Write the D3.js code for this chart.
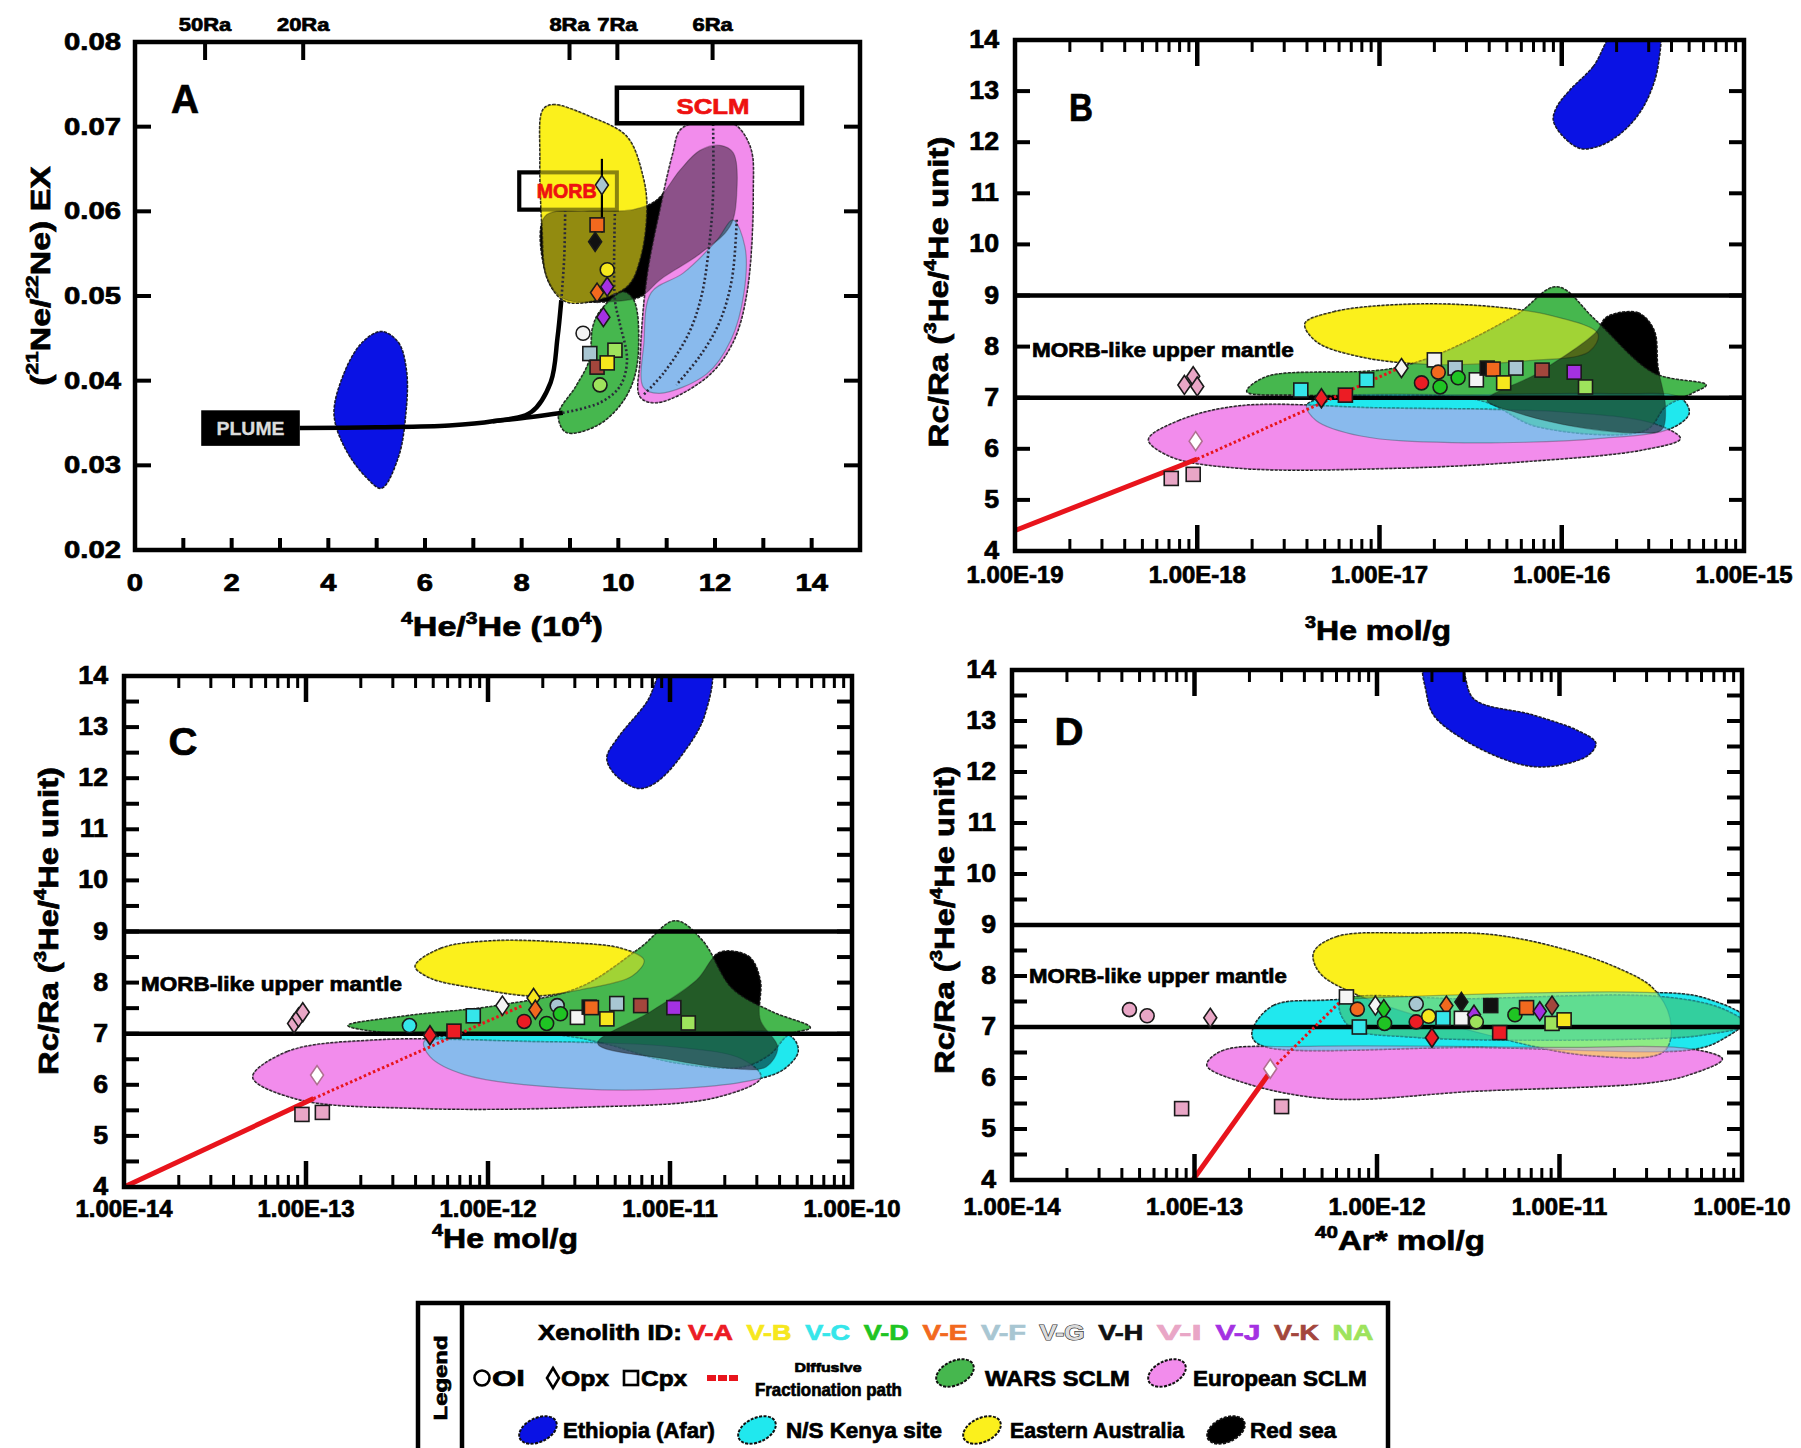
<!DOCTYPE html>
<html>
<head>
<meta charset="utf-8">
<title>He-Ne-Ar systematics of mantle xenoliths</title>
<script src="https://cdn.jsdelivr.net/npm/d3@7"></script>
<style>
  html, body { margin: 0; padding: 0; background: #fff; }
  svg text { font-family: "Liberation Sans", Arial, Helvetica, sans-serif; font-weight: bold; }
</style>
</head>
<body>
<svg id="fig" width="1801" height="1448" xmlns="http://www.w3.org/2000/svg"></svg>
<script>
// ---------------- Xenolith samples ----------------
const xenolithIds    = ["V-A","V-B","V-C","V-D","V-E","V-F","V-G","V-H","V-I","V-J","V-K","NA"];
const xenolithColors = ["#ec1c24","#f6e71d","#35e6ea","#1fc423","#f2691e","#a8c6d2","#f4f4f4","#111111","#e9a6c6","#a431e2","#a3463c","#9ee35c"];

// ---------------- Panel A: (21Ne/22Ne)EX vs 4He/3He (x10^4) ----------------
const xTicksA = [0, 2, 4, 6, 8, 10, 12, 14];
const yTicksA = [0.02, 0.03, 0.04, 0.05, 0.06, 0.07, 0.08];
const raLabelsA = ["50Ra", "20Ra", "8Ra", "7Ra", "6Ra"];
const raPositionsA = [1.45, 3.48, 8.99, 9.98, 11.95];

const afarA = [[5.10,0.0458],[5.45,0.0445],[5.62,0.0410],[5.60,0.0360],[5.45,0.0310],[5.10,0.0273],[4.80,0.0285],[4.35,0.0320],[4.12,0.0360],[4.30,0.0405],[4.70,0.0445]];
const redSeaA = [[8.48,0.0594],[9.35,0.0600],[10.31,0.0602],[10.79,0.0613],[11.28,0.0649],[11.69,0.0672],[12.10,0.0678],[12.38,0.0669],[12.45,0.0621],[12.31,0.0582],[11.69,0.0550],[10.86,0.0519],[10.45,0.0499],[9.62,0.0493],[8.86,0.0497],[8.52,0.0523]];
const kenyaA = [[12.37,0.0590],[12.62,0.0558],[12.60,0.0504],[12.33,0.0448],[11.83,0.0408],[10.85,0.0385],[10.52,0.0392],[10.53,0.0445],[10.68,0.0504],[11.34,0.0527],[12.04,0.0566]];
const europeA = [[11.28,0.0696],[11.69,0.0706],[12.37,0.0704],[12.73,0.0676],[12.79,0.0622],[12.66,0.0504],[12.37,0.0445],[11.83,0.0404],[10.80,0.0374],[10.45,0.0381],[10.45,0.0424],[10.59,0.0522],[10.86,0.0602],[11.13,0.0669]];
const australiaA = [[8.44,0.0720],[8.65,0.0726],[9.41,0.0712],[10.18,0.0688],[10.51,0.0641],[10.59,0.0602],[10.45,0.0543],[10.18,0.0511],[9.27,0.0492],[8.86,0.0495],[8.52,0.0522],[8.42,0.0582],[8.38,0.0661]];
const warsA = [[9.62,0.0482],[10.10,0.0505],[10.32,0.0495],[10.42,0.0444],[10.32,0.0402],[10.05,0.0372],[9.56,0.0347],[8.92,0.0339],[8.76,0.0360],[9.12,0.0393],[9.40,0.0424],[9.47,0.0463]];

// binary mixing curves from the plume end-member
const mixPlumeMorbA = [[3.41,0.0344],[5.0,0.0345],[6.5,0.0347],[7.4,0.0352],[8.2,0.0363],[8.6,0.0398],[8.74,0.0450],[8.82,0.0495]];
const mixPlumeWarsA = [[7.4,0.0352],[8.2,0.0357],[8.85,0.0362]];
const mixDottedA = [
  [[8.82,0.0495],[8.88,0.0545],[8.90,0.0600]],
  [[8.85,0.0362],[9.62,0.0374],[10.03,0.0393],[10.18,0.0424],[10.02,0.0470],[9.93,0.0495],[9.93,0.0600]],
  [[11.96,0.0703],[11.96,0.0620],[11.88,0.0560],[11.72,0.0500],[11.45,0.0455],[10.95,0.0410],[10.50,0.0382]],
  [[12.45,0.0590],[12.35,0.0520],[12.10,0.0470],[11.70,0.0430],[11.20,0.0395]]
];
const plumeBoxA = [1.37, 3.41, 0.0323, 0.0365];
const morbBoxA  = [7.95, 9.97, 0.0602, 0.0646];
const sclmBoxA  = [9.97, 13.80, 0.0704, 0.0746];

// [x, y, xenolith, mineral]
const pointsA = [
  [9.66,0.0631,"V-F","opx"],[9.56,0.0584,"V-E","cpx"],[9.52,0.0564,"V-H","opx"],[9.77,0.0531,"V-B","ol"],
  [9.77,0.0511,"V-J","opx"],[9.56,0.0504,"V-E","opx"],[9.69,0.0475,"V-J","opx"],[9.27,0.0456,"V-G","ol"],
  [9.93,0.0436,"NA","cpx"],[9.41,0.0432,"V-F","cpx"],[9.56,0.0416,"V-K","cpx"],[9.77,0.0421,"V-B","cpx"],
  [9.62,0.0395,"NA","ol"]
];
const errorBarA = [9.66, 0.0575, 0.0662];

// ---------------- Panel B: Rc/Ra vs 3He (mol/g) ----------------
const xTicksB = [1e-19, 1e-18, 1e-17, 1e-16, 1e-15];
const afarB = [[2.0e-16,14.2],[1.49e-16,13.48],[1.11e-16,13.02],[9.4e-17,12.69],[9.0e-17,12.43],[1.02e-16,12.11],[1.26e-16,11.88],[1.56e-16,11.91],[2.0e-16,12.11],[2.58e-16,12.5],[3.05e-16,12.96],[3.39e-16,13.54],[3.35e-16,14.2]];
const redSeaB = [[1.77e-16,8.58],[2.62e-16,8.66],[3.21e-16,8.32],[3.37e-16,7.60],[3.71e-16,6.82],[3.53e-16,6.37],[2.62e-16,6.31],[1.20e-16,6.43],[5.75e-17,6.70],[3.89e-17,6.95],[7.36e-17,7.48],[1.53e-16,8.27]];
const kenyaB = [[3.98e-18,6.85],[5.6e-18,7.02],[3.16e-17,7.06],[2.0e-16,7.08],[4.47e-16,7.0],[5.0e-16,6.7],[3.98e-16,6.4],[1.58e-16,6.2],[2.5e-17,6.12],[7.9e-18,6.25],[4.5e-18,6.55]];
const europeB = [[5.4e-19,6.18],[7.9e-19,6.55],[1.7e-18,6.84],[1.0e-17,6.8],[1.0e-16,6.72],[3.16e-16,6.5],[4.47e-16,6.2],[2.8e-16,5.98],[6.3e-17,5.75],[1.23e-17,5.62],[1.7e-18,5.62],[7.1e-19,5.85]];
const australiaB = [[3.9e-18,8.45],[5.6e-18,8.68],[1.26e-17,8.82],[3.55e-17,8.8],[8.9e-17,8.6],[1.58e-16,8.25],[1.41e-16,7.9],[6.3e-17,7.72],[2.0e-17,7.65],[7.9e-18,7.8],[4.5e-18,8.1]];
const warsB = [[1.87e-18,7.12],[2.39e-18,7.41],[1.33e-17,7.61],[5.47e-17,8.59],[9.4e-17,9.17],[1.53e-16,8.52],[3.21e-16,7.48],[6.2e-16,7.25],[5.2e-16,7.09],[3.7e-16,6.82],[2.9e-16,6.37],[7.4e-17,6.43],[3.54e-17,6.95],[3.9e-18,7.05]];
const diffusionB = [[1e-19,4.4],[1.0e-18,5.8],[1.32e-17,7.6]];
const pointsB = [
  [3.7e-18,7.15,"V-C","cpx"],[4.8e-18,6.99,"V-A","opx"],[6.5e-18,7.05,"V-A","cpx"],[8.5e-18,7.35,"V-C","cpx"],
  [1.32e-17,7.58,"V-G","opx"],[1.7e-17,7.29,"V-A","ol"],[2.0e-17,7.74,"V-G","cpx"],[2.1e-17,7.50,"V-E","ol"],
  [2.15e-17,7.21,"V-D","ol"],[2.6e-17,7.58,"V-F","cpx"],[2.7e-17,7.39,"V-D","ol"],[3.4e-17,7.35,"V-G","cpx"],
  [3.9e-17,7.58,"V-H","cpx"],[4.2e-17,7.56,"V-E","cpx"],[4.8e-17,7.29,"V-B","cpx"],[5.6e-17,7.58,"V-F","cpx"],
  [7.8e-17,7.54,"V-K","cpx"],[1.17e-16,7.50,"V-J","cpx"],[1.35e-16,7.21,"NA","cpx"],
  [8.5e-19,7.25,"V-I","opx"],[9.5e-19,7.42,"V-I","opx"],[1.0e-18,7.22,"V-I","opx"],
  [9.8e-19,6.15,"V-I","opx",true],[7.2e-19,5.42,"V-I","cpx"],[9.5e-19,5.50,"V-I","cpx"]
];

// ---------------- Panel C: Rc/Ra vs 4He (mol/g) ----------------
const xTicksC = [1e-14, 1e-13, 1e-12, 1e-11, 1e-10];
const afarC = [[9.5e-12,14.2],[7.5e-12,13.5],[5.2e-12,12.8],[4.5e-12,12.4],[5.0e-12,12.07],[6.7e-12,11.8],[8.4e-12,11.92],[1.21e-11,12.54],[1.55e-11,13.23],[1.65e-11,14.2]];
const redSeaC = [[1.87e-11,8.59],[2.71e-11,8.51],[3.13e-11,8.05],[3.13e-11,7.28],[3.91e-11,6.73],[3.37e-11,6.35],[2.34e-11,6.31],[9.7e-12,6.50],[4.0e-12,6.81],[7.8e-12,7.43],[1.4e-11,8.05]];
const kenyaC = [[4.45e-13,6.85],[7.4e-13,6.97],[3.23e-12,7.01],[1.4e-11,7.01],[4.53e-11,6.97],[5.06e-11,6.66],[4.2e-11,6.3],[2.92e-11,6.1],[1.4e-11,5.95],[3.23e-12,5.92],[7.4e-13,6.2],[4.8e-13,6.55]];
const europeC = [[5.1e-14,6.15],[7.9e-14,6.65],[2.5e-13,6.88],[1.58e-12,6.85],[1.0e-11,6.75],[2.5e-11,6.5],[3.16e-11,6.15],[1.78e-11,5.75],[3.16e-12,5.56],[4.0e-13,5.54],[8.9e-14,5.72]];
const australiaC = [[3.98e-13,8.32],[5.5e-13,8.67],[1.07e-12,8.82],[2.79e-12,8.78],[5.4e-12,8.67],[7.2e-12,8.44],[6.2e-12,8.13],[3.23e-12,7.86],[1.79e-12,7.74],[8.6e-13,7.89],[4.8e-13,8.09]];
const warsC = [[1.7e-13,7.16],[3.55e-13,7.35],[1.12e-12,7.55],[3.16e-12,7.9],[6.8e-12,8.67],[1.07e-11,9.21],[1.51e-11,8.82],[2.19e-11,7.89],[3.63e-11,7.43],[5.9e-11,7.12],[4.47e-11,6.98],[3.55e-11,6.6],[2.5e-11,6.35],[1.0e-11,6.45],[4.47e-12,6.8],[2.5e-12,6.97],[3.16e-13,7.0]];
const diffusionC = [[1e-14,4.0],[1.1e-13,5.73],[1.55e-12,7.55]];
const pointsC = [
  [3.7e-13,7.16,"V-C","ol"],[4.8e-13,6.97,"V-A","opx"],[6.5e-13,7.05,"V-A","cpx"],[8.3e-13,7.35,"V-C","cpx"],
  [1.2e-12,7.55,"V-G","opx"],[1.78e-12,7.70,"V-B","opx"],[1.58e-12,7.24,"V-A","ol"],[1.82e-12,7.47,"V-E","opx"],
  [2.1e-12,7.20,"V-D","ol"],[2.4e-12,7.55,"V-F","ol"],[2.5e-12,7.39,"V-D","ol"],[3.1e-12,7.32,"V-G","cpx"],
  [3.6e-12,7.52,"V-H","cpx"],[3.7e-12,7.51,"V-E","cpx"],[4.5e-12,7.29,"V-B","cpx"],[5.1e-12,7.59,"V-F","cpx"],
  [6.9e-12,7.55,"V-K","cpx"],[1.05e-11,7.51,"V-J","cpx"],[1.26e-11,7.21,"NA","cpx"],
  [8.6e-14,7.20,"V-I","opx"],[9.1e-14,7.32,"V-I","opx"],[9.6e-14,7.42,"V-I","opx"],
  [1.15e-13,6.19,"V-I","opx",true],[9.5e-14,5.42,"V-I","cpx"],[1.23e-13,5.46,"V-I","cpx"]
];

// ---------------- Panel D: Rc/Ra vs 40Ar* (mol/g) ----------------
const xTicksD = [1e-14, 1e-13, 1e-12, 1e-11, 1e-10];
const afarD = [[1.82e-12,14.1],[2.82e-12,14.1],[3.39e-12,13.43],[7.1e-12,13.12],[1.26e-11,12.81],[1.58e-11,12.57],[1.45e-11,12.34],[1.02e-11,12.14],[7.1e-12,12.11],[4.9e-12,12.26],[2.95e-12,12.65],[2.04e-12,13.12],[1.86e-12,13.58]];
const kenyaD = [[2.1e-13,6.99],[2.71e-13,7.42],[5.6e-13,7.53],[3.02e-11,7.68],[6.2e-11,7.57],[1.05e-10,7.15],[7.8e-11,6.76],[5.4e-11,6.56],[3.43e-12,6.60],[2.52e-13,6.60],[2.1e-13,6.76]];
const europeD = [[1.17e-13,6.25],[1.41e-13,6.53],[3.98e-13,6.62],[1.0e-11,6.6],[5.0e-11,6.58],[7.8e-11,6.37],[5.0e-11,6.05],[3.02e-11,5.9],[3.39e-12,5.74],[5.6e-13,5.59],[1.9e-13,5.9]];
const australiaD = [[4.5e-13,8.46],[6.0e-13,8.77],[1.66e-12,8.84],[4.27e-12,8.81],[1.02e-11,8.54],[2.1e-11,8.15],[3.25e-11,7.76],[4.04e-11,7.15],[3.76e-11,6.53],[1.46e-11,6.44],[3.43e-12,6.91],[8.05e-13,7.61],[4.84e-13,8.07]];
const warsD = [[6.3e-13,7.49],[3.16e-12,7.55],[3.72e-11,7.59],[7.9e-11,7.35],[1.05e-10,7.05],[6.3e-11,6.85],[3.72e-11,6.78],[1.58e-12,6.8],[7.1e-13,7.0]];
const diffusionD = [[9.8e-14,4.0],[2.7e-13,6.2],[6.95e-13,7.65]];
const pointsD = [
  [6.8e-13,7.59,"V-G","cpx"],[7.8e-13,7.35,"V-E","ol"],[8.0e-13,7.00,"V-C","cpx"],[9.8e-13,7.42,"V-G","opx"],
  [1.09e-12,7.35,"V-D","opx"],[1.10e-12,7.07,"V-D","ol"],[1.64e-12,7.45,"V-F","ol"],[1.64e-12,7.10,"V-A","ol"],
  [1.92e-12,7.21,"V-B","ol"],[2.0e-12,6.79,"V-A","opx"],[2.4e-12,7.42,"V-E","opx"],[2.3e-12,7.17,"V-C","cpx"],
  [2.9e-12,7.49,"V-H","opx"],[2.9e-12,7.17,"V-G","cpx"],[3.4e-12,7.24,"V-J","opx"],[3.5e-12,7.10,"NA","ol"],
  [4.2e-12,7.42,"V-H","cpx"],[4.7e-12,6.89,"V-A","cpx"],[5.7e-12,7.24,"V-D","ol"],[6.6e-12,7.38,"V-E","cpx"],
  [7.8e-12,7.31,"V-J","opx"],[9.1e-12,7.42,"V-K","opx"],[9.1e-12,7.07,"NA","cpx"],[1.06e-11,7.14,"V-B","cpx"],
  [4.4e-14,7.34,"V-I","ol"],[5.5e-14,7.22,"V-I","ol"],[1.22e-13,7.18,"V-I","opx"],
  [2.6e-13,6.18,"V-I","opx",true],[8.5e-14,5.40,"V-I","cpx"],[3.0e-13,5.44,"V-I","cpx"]
];

// reference MORB band in Rc/Ra
const morbBand = [7, 9];
const ratioTicks = [4, 5, 6, 7, 8, 9, 10, 11, 12, 13, 14];

// ---------------- drawing ----------------
const COL = { afar:"#0a12e4", redSea:"#000000", kenya:"#20e8ee", europe:"#f28cec", australia:"#fbf01c", wars:"#46b74e", red:"#e8141c" };
const svg = d3.select("#fig");
const defs = svg.append("defs");

function label(parent, o) {
  const t = parent.append("text")
    .attr("text-anchor", o.anchor || "middle")
    .attr("font-size", o.size)
    .attr("fill", o.fill || "#000");
  const parts = typeof o.parts === "string" ? [[o.parts, false]] : o.parts;
  let raised = false;
  parts.forEach(([s, sup]) => {
    const ts = t.append("tspan").text(s);
    if (sup) { ts.attr("font-size", o.size * 0.62); if (!raised) ts.attr("dy", -o.size * 0.42); raised = true; }
    else if (raised) { ts.attr("dy", o.size * 0.42); raised = false; }
  });
  t.attr("stroke", o.stroke || o.fill || "#000").attr("stroke-width", o.sw == null ? 0.7 : o.sw).attr("paint-order", "stroke");
  let sx = o.sx || 1;
  if (o.width) { const w = t.node().getBBox().width; if (w > 0) sx = o.width / w; }
  t.attr("transform", `translate(${o.x},${o.y})` + (o.rotate ? ` rotate(${o.rotate})` : "") + ` scale(${sx},1)`);
  return t;
}

function marker(g, cx, cy, id, mineral, open) {
  const col = xenolithColors[xenolithIds.indexOf(id)];
  const fill = open ? "#ffffff" : col;
  const stroke = open ? "#b07090" : "#1a1a1a";
  let m;
  if (mineral === "ol") m = g.append("circle").attr("cx", cx).attr("cy", cy).attr("r", 7);
  else if (mineral === "opx") m = g.append("path").attr("d", `M${cx},${cy - 9.5}L${cx + 6.5},${cy}L${cx},${cy + 9.5}L${cx - 6.5},${cy}Z`);
  else m = g.append("rect").attr("x", cx - 7).attr("y", cy - 7).attr("width", 14).attr("height", 14);
  m.attr("fill", fill).attr("stroke", stroke).attr("stroke-width", 1.6);
}

// Fields are laid down opaque, then a translucent pass in reverse order
// lets the lower fields show through where they overlap.
function drawFields(g, fields, x, y) {
  const outline = d3.line().x(d => x(d[0])).y(d => y(d[1])).curve(d3.curveCatmullRomClosed.alpha(0.5));
  fields.forEach(f => g.append("path").attr("d", outline(f.pts)).attr("fill", f.color)
    .attr("stroke", "#1a1a1a").attr("stroke-width", 1.7).attr("stroke-dasharray", "3,1.4"));
  fields.slice().reverse().forEach(f => g.append("path").attr("d", outline(f.pts)).attr("fill", f.color)
    .attr("fill-opacity", f.mix == null ? 0.5 : f.mix)
    .attr("stroke", "#1a1a1a").attr("stroke-opacity", 0.3).attr("stroke-width", 1.2));
}

function clipFor(name, b) {
  defs.append("clipPath").attr("id", "clip-" + name).append("rect")
    .attr("x", b.x0).attr("y", b.y0).attr("width", b.x1 - b.x0).attr("height", b.y1 - b.y0);
  return `url(#clip-${name})`;
}

function tick(g, x1, y1, x2, y2, w) {
  g.append("line").attr("x1", x1).attr("y1", y1).attr("x2", x2).attr("y2", y2)
    .attr("stroke", "#000").attr("stroke-width", w);
}

function frame(g, b) {
  g.append("rect").attr("x", b.x0).attr("y", b.y0).attr("width", b.x1 - b.x0).attr("height", b.y1 - b.y0)
    .attr("fill", "none").attr("stroke", "#000").attr("stroke-width", 4.5);
}

const logLabel = v => d3.format(".2e")(v).toUpperCase();

// ---------- Panel A ----------
(function () {
  const b = { x0: 135, x1: 860, y0: 42, y1: 550 };
  const x = d3.scaleLinear().domain([0, 15]).range([b.x0, b.x1]);
  const y = d3.scaleLinear().domain([0.02, 0.08]).range([b.y1, b.y0]);
  const g = svg.append("g");
  const plot = g.append("g").attr("clip-path", clipFor("A", b));

  // MORB reference box sits beneath the fields
  const mb = morbBoxA;
  plot.append("rect").attr("x", x(mb[0])).attr("y", y(mb[3])).attr("width", x(mb[1]) - x(mb[0])).attr("height", y(mb[2]) - y(mb[3]))
    .attr("fill", "#fff").attr("stroke", "#000").attr("stroke-width", 4);

  drawFields(plot, [
    { pts: redSeaA, color: COL.redSea, mix: 0.42 }, { pts: kenyaA, color: COL.kenya }, { pts: europeA, color: COL.europe },
    { pts: australiaA, color: COL.australia }, { pts: warsA, color: COL.wars }, { pts: afarA, color: COL.afar }
  ], x, y);

  plot.append("rect").attr("x", x(mb[0])).attr("y", y(mb[3])).attr("width", x(mb[1]) - x(mb[0])).attr("height", y(mb[2]) - y(mb[3]))
    .attr("fill", "none").attr("stroke", "#000").attr("stroke-opacity", 0.45).attr("stroke-width", 4);

  const smooth = d3.line().x(d => x(d[0])).y(d => y(d[1])).curve(d3.curveCatmullRom.alpha(0.5));
  mixDottedA.forEach(c => plot.append("path").attr("d", smooth(c)).attr("fill", "none")
    .attr("stroke", "#2a2a3a").attr("stroke-width", 2.6).attr("stroke-dasharray", "2,2.4"));
  [mixPlumeMorbA, mixPlumeWarsA].forEach(c => plot.append("path").attr("d", smooth(c)).attr("fill", "none")
    .attr("stroke", "#000").attr("stroke-width", 4.5));

  // SCLM and PLUME end-member boxes
  const sb = sclmBoxA;
  plot.append("rect").attr("x", x(sb[0])).attr("y", y(sb[3])).attr("width", x(sb[1]) - x(sb[0])).attr("height", y(sb[2]) - y(sb[3]))
    .attr("fill", "#fff").attr("stroke", "#000").attr("stroke-width", 4.5);
  const pb = plumeBoxA;
  plot.append("rect").attr("x", x(pb[0])).attr("y", y(pb[3])).attr("width", x(pb[1]) - x(pb[0])).attr("height", y(pb[2]) - y(pb[3]))
    .attr("fill", "#000");
  label(g, { x: x((pb[0] + pb[1]) / 2), y: y((pb[2] + pb[3]) / 2) + 7, parts: "PLUME", size: 18, width: 68, fill: "#dcdcdc", sw: 0.3 });
  label(g, { x: x(8.93), y: y((mb[2] + mb[3]) / 2) + 7, parts: "MORB", size: 20, width: 60, fill: "#ee1111" });
  label(g, { x: x(11.96), y: y((sb[2] + sb[3]) / 2) + 8, parts: "SCLM", size: 22, width: 73, fill: "#ee1111" });

  // error bar and samples
  plot.append("line").attr("x1", x(errorBarA[0])).attr("x2", x(errorBarA[0]))
    .attr("y1", y(errorBarA[1])).attr("y2", y(errorBarA[2])).attr("stroke", "#000").attr("stroke-width", 2.2);
  pointsA.forEach(p => marker(plot, x(p[0]), y(p[1]), p[2], p[3], p[4]));

  // axes
  frame(g, b);
  d3.range(1, 15).forEach(v => tick(g, x(v), b.y1, x(v), b.y1 - 12, 4));
  [0.03, 0.04, 0.05, 0.06, 0.07].forEach(v => { tick(g, b.x0, y(v), b.x0 + 16, y(v), 4); tick(g, b.x1, y(v), b.x1 - 16, y(v), 4); });
  raPositionsA.forEach((v, i) => {
    tick(g, x(v), b.y0, x(v), b.y0 + 18, 4);
    label(g, { x: x(v), y: 31, parts: raLabelsA[i], size: 18, sx: 1.22 });
  });
  yTicksA.forEach(v => label(g, { x: b.x0 - 14, y: y(v) + 8, parts: d3.format(".2f")(v), size: 24, anchor: "end", sx: 1.22 }));
  xTicksA.forEach(v => label(g, { x: x(v), y: 591, parts: String(v), size: 24, sx: 1.22 }));
  label(g, { x: 502, y: 636, parts: [["4", true], ["He/", false], ["3", true], ["He (10", false], ["4", true], [")", false]], size: 28, width: 202 });
  label(g, { x: 50, y: 276, rotate: -90, parts: [["(", false], ["21", true], ["Ne/", false], ["22", true], ["Ne) EX", false]], size: 28, width: 220 });
  label(g, { x: 185, y: 113, parts: "A", size: 40, width: 28 });
})();

// ---------- Panels B, C, D (Rc/Ra vs concentration) ----------
function ratioPanel(cfg) {
  const b = cfg.b;
  const x = d3.scaleLog().domain(cfg.domain).range([b.x0, b.x1]);
  const y = d3.scaleLinear().domain([4, 14]).range([b.y1, b.y0]);
  const g = svg.append("g");
  const plot = g.append("g").attr("clip-path", clipFor(cfg.name, b));

  drawFields(plot, cfg.fields, x, y);

  morbBand.forEach(v => plot.append("line").attr("x1", b.x0).attr("x2", b.x1).attr("y1", y(v)).attr("y2", y(v))
    .attr("stroke", "#000").attr("stroke-width", 4.5));

  const ln = d3.line().x(d => x(d[0])).y(d => y(d[1]));
  plot.append("path").attr("d", ln(cfg.diffusion.slice(0, 2))).attr("fill", "none").attr("stroke", COL.red).attr("stroke-width", 5);
  plot.append("path").attr("d", ln(cfg.diffusion.slice(1))).attr("fill", "none").attr("stroke", COL.red)
    .attr("stroke-width", 3).attr("stroke-dasharray", "2.5,2.5");

  cfg.points.forEach(p => marker(plot, x(p[0]), y(p[1]), p[2], p[3], p[4]));

  label(g, { x: b.x0 + 17, y: y(cfg.morbTextY) + 7, parts: "MORB-like upper mantle", size: 20, anchor: "start", width: cfg.morbTextW });

  // axes
  frame(g, b);
  const lo = Math.round(Math.log10(cfg.domain[0])), hi = Math.round(Math.log10(cfg.domain[1]));
  for (let d = lo; d < hi; d++) {
    for (let k = 1; k < 10; k++) {
      if (k === 1 && d === lo) continue;
      const px = x(k * Math.pow(10, d));
      const len = k === 1 ? 26 : 12, w = k === 1 ? 4.5 : 3;
      tick(g, px, b.y0, px, b.y0 + len, w);
      tick(g, px, b.y1, px, b.y1 - len, w);
    }
  }
  cfg.yMinor.forEach(v => { tick(g, b.x0, y(v), b.x0 + 15, y(v), 4); tick(g, b.x1, y(v), b.x1 - 15, y(v), 4); });
  ratioTicks.forEach(v => label(g, { x: b.x0 - 16, y: y(v) + 8, parts: String(v), size: 25, anchor: "end", sx: 1.07 }));
  cfg.xTicks.forEach(v => label(g, { x: x(v), y: cfg.xLabelY, parts: logLabel(v), size: 23, sx: 1.04 }));
  label(g, { x: cfg.xTitle[0], y: cfg.xTitle[1], parts: cfg.xTitleParts, size: 28, width: cfg.xTitle[2] });
  label(g, { x: cfg.yTitle[0], y: cfg.yTitle[1], rotate: -90,
    parts: [["Rc/Ra (", false], ["3", true], ["He/", false], ["4", true], ["He unit)", false]], size: 28, width: cfg.yTitle[2] });
  label(g, { x: cfg.letter[0], y: cfg.letter[1], parts: cfg.name, size: 38, width: cfg.letter[2] });
}

const integerSteps = d3.range(5, 14);
const halfSteps = d3.range(4.5, 14, 0.5);

ratioPanel({
  name: "B", b: { x0: 1015, x1: 1744, y0: 40, y1: 551 }, domain: [1e-19, 1e-15], xTicks: xTicksB,
  fields: [
    { pts: redSeaB, color: COL.redSea }, { pts: kenyaB, color: COL.kenya }, { pts: europeB, color: COL.europe },
    { pts: australiaB, color: COL.australia }, { pts: warsB, color: COL.wars }, { pts: afarB, color: COL.afar }
  ],
  diffusion: diffusionB, points: pointsB, yMinor: integerSteps,
  morbTextY: 7.93, morbTextW: 262, xLabelY: 583,
  xTitle: [1378, 640, 146], xTitleParts: [["3", true], ["He mol/g", false]],
  yTitle: [948, 292, 311], letter: [1081, 121, 24]
});

ratioPanel({
  name: "C", b: { x0: 124, x1: 852, y0: 676, y1: 1187 }, domain: [1e-14, 1e-10], xTicks: xTicksC,
  fields: [
    { pts: redSeaC, color: COL.redSea }, { pts: kenyaC, color: COL.kenya }, { pts: europeC, color: COL.europe },
    { pts: australiaC, color: COL.australia }, { pts: warsC, color: COL.wars }, { pts: afarC, color: COL.afar }
  ],
  diffusion: diffusionC, points: pointsC, yMinor: halfSteps,
  morbTextY: 7.97, morbTextW: 261, xLabelY: 1217,
  xTitle: [505, 1248, 146], xTitleParts: [["4", true], ["He mol/g", false]],
  yTitle: [58, 921, 308], letter: [183, 755, 29]
});

ratioPanel({
  name: "D", b: { x0: 1012, x1: 1742, y0: 670, y1: 1180 }, domain: [1e-14, 1e-10], xTicks: xTicksD,
  fields: [
    { pts: europeD, color: COL.europe }, { pts: kenyaD, color: COL.kenya },
    { pts: australiaD, color: COL.australia }, { pts: warsD, color: COL.wars }, { pts: afarD, color: COL.afar }
  ],
  diffusion: diffusionD, points: pointsD, yMinor: halfSteps,
  morbTextY: 8.0, morbTextW: 258, xLabelY: 1215,
  xTitle: [1400, 1250, 170], xTitleParts: [["40", true], ["Ar* mol/g", false]],
  yTitle: [954, 920, 308], letter: [1069, 745, 29]
});

// ---------- Legend ----------
(function () {
  const g = svg.append("g");
  g.append("rect").attr("x", 418).attr("y", 1303).attr("width", 970).attr("height", 220)
    .attr("fill", "#fff").attr("stroke", "#000").attr("stroke-width", 4.5);
  g.append("line").attr("x1", 462).attr("x2", 462).attr("y1", 1303).attr("y2", 1460).attr("stroke", "#000").attr("stroke-width", 4.5);
  label(g, { x: 447, y: 1378, rotate: -90, parts: "Legend", size: 18, width: 85 });

  // row 1: sample colours
  label(g, { x: 538, y: 1340, parts: "Xenolith ID:", size: 22, anchor: "start", width: 144 });
  xenolithIds.forEach((id, i) => {
    const isG = id === "V-G";
    label(g, { x: 688 + i * 58.6, y: 1340, parts: id, size: 22, anchor: "start", width: id === "NA" ? 41 : 45,
      fill: isG ? "#dcdcdc" : xenolithColors[i], stroke: isG ? "#333" : null, sw: isG ? 1.2 : 0.7 });
  });

  // row 2: mineral symbols, diffusion path, fields
  const cy2 = 1378;
  g.append("circle").attr("cx", 482).attr("cy", cy2).attr("r", 7.5).attr("fill", "#fff").attr("stroke", "#000").attr("stroke-width", 2.6);
  label(g, { x: 492, y: 1386, parts: "Ol", size: 22, anchor: "start", width: 33 });
  g.append("path").attr("d", `M553,${cy2 - 10}L559,${cy2}L553,${cy2 + 10}L547,${cy2}Z`).attr("fill", "#fff").attr("stroke", "#000").attr("stroke-width", 2.6);
  label(g, { x: 561, y: 1386, parts: "Opx", size: 22, anchor: "start", width: 49 });
  g.append("rect").attr("x", 624).attr("y", cy2 - 7).attr("width", 14).attr("height", 14).attr("fill", "#fff").attr("stroke", "#000").attr("stroke-width", 2.6);
  label(g, { x: 641, y: 1386, parts: "Cpx", size: 22, anchor: "start", width: 47 });
  g.append("line").attr("x1", 707).attr("x2", 738).attr("y1", cy2).attr("y2", cy2)
    .attr("stroke", COL.red).attr("stroke-width", 6).attr("stroke-dasharray", "9,2");
  label(g, { x: 828, y: 1372, parts: "Diffusive", size: 13, width: 67 });
  label(g, { x: 755, y: 1396, parts: "Fractionation path", size: 18, anchor: "start", width: 147 });

  const swatch = (cx, cy, color) => g.append("ellipse").attr("cx", cx).attr("cy", cy).attr("rx", 20).attr("ry", 12)
    .attr("transform", `rotate(-25,${cx},${cy})`).attr("fill", color)
    .attr("stroke", "#111").attr("stroke-width", 2).attr("stroke-dasharray", "3,1.4");
  swatch(955, 1373, COL.wars);
  label(g, { x: 985, y: 1386, parts: "WARS SCLM", size: 22, anchor: "start", width: 145 });
  swatch(1167, 1373, COL.europe);
  label(g, { x: 1193, y: 1386, parts: "European SCLM", size: 22, anchor: "start", width: 174 });

  // row 3
  swatch(538, 1430, COL.afar);
  label(g, { x: 563, y: 1438, parts: "Ethiopia (Afar)", size: 22, anchor: "start", width: 152 });
  swatch(757, 1430, COL.kenya);
  label(g, { x: 786, y: 1438, parts: "N/S Kenya site", size: 22, anchor: "start", width: 156 });
  swatch(982, 1430, COL.australia);
  label(g, { x: 1010, y: 1438, parts: "Eastern Australia", size: 22, anchor: "start", width: 175 });
  swatch(1226, 1430, COL.redSea);
  label(g, { x: 1250, y: 1438, parts: "Red sea", size: 22, anchor: "start", width: 87 });
})();
</script>
</body>
</html>
